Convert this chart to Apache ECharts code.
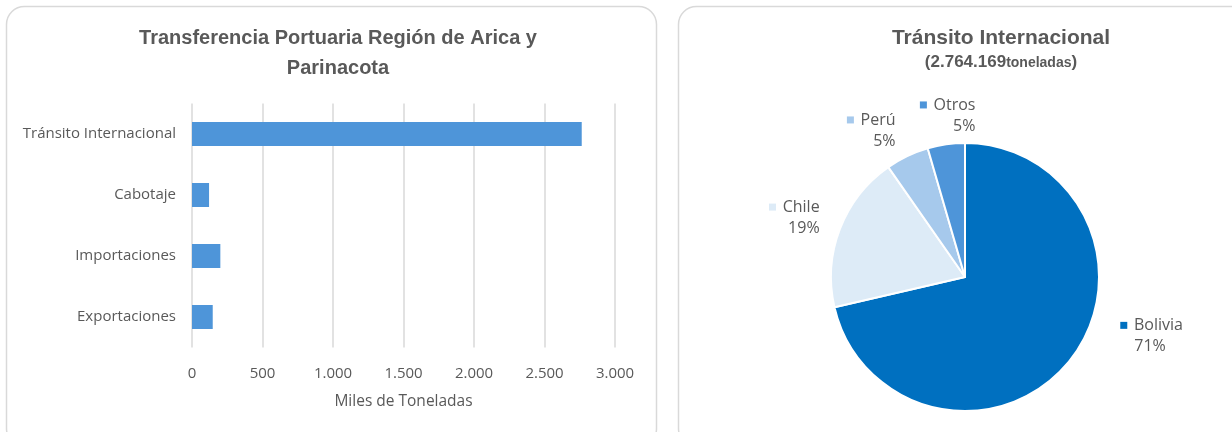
<!DOCTYPE html>
<html>
<head>
<meta charset="utf-8">
<script src="https://cdn.jsdelivr.net/npm/echarts@6/dist/echarts.min.js"></script>
<style>
html,body{margin:0;padding:0;background:#fff;}
#c{width:1232px;height:432px;}
</style>
</head>
<body>
<div id="c"></div>
<script>
// Bar chart data (miles de toneladas)
const categories = ['Tránsito Internacional', 'Cabotaje', 'Importaciones', 'Exportaciones'];
const values = [2764, 121, 201, 147];
const xMin = 0, xMax = 3000, xStep = 500;

// Pie chart data (miles de toneladas, Tránsito Internacional)
const countries = ['Bolivia', 'Chile', 'Perú', 'Otros'];
const shares = [1973, 523, 144, 124];
const pieColors = ['#0070C0', '#DDEBF7', '#A6C9EC', '#4E95D9'];

const txt = '#595959';
const tfont = 'Liberation Sans';
const font = 'Open Sans';

const rich = {
  n: {fontSize: 16, color: txt, fontFamily: font, lineHeight: 21},
  p: {fontSize: 16, color: txt, fontFamily: font, lineHeight: 21, padding: [0, 0, 0, 14]}
};
pieColors.forEach((c, i) => {
  rich['sq' + i] = {width: 7, height: 7, backgroundColor: c};
});
// nudges to mimic the spreadsheet's "best fit" label placement
const labelNudge = [[36, -32], [-9, -7], [32, -41], [36, -17]];

const chart = echarts.init(document.getElementById('c'), null, {renderer: 'canvas'});
chart.setOption({
  animation: false,
  backgroundColor: '#fff',
  graphic: [
    {type: 'rect', z: -10, shape: {x: 6.5, y: 6.5, width: 650, height: 440, r: 18},
     style: {fill: '#fff', stroke: '#D9D9D9', lineWidth: 1.5}},
    {type: 'rect', z: -10, shape: {x: 678.5, y: 6.5, width: 570, height: 440, r: 18},
     style: {fill: '#fff', stroke: '#D9D9D9', lineWidth: 1.5}}
  ],
  title: [
    {text: 'Transferencia Portuaria Región de Arica y\nParinacota', left: 333, top: 18, textAlign: 'center',
     textStyle: {fontSize: 20, fontWeight: 'bold', color: txt, fontFamily: tfont, lineHeight: 30}},
    {text: 'Tránsito Internacional', subtext: '{a|(2.764.169}{b|toneladas}{a|)}', left: 996, top: 23, textAlign: 'center',
     itemGap: 5,
     textStyle: {fontSize: 21, fontWeight: 'bold', color: txt, fontFamily: tfont},
     subtextStyle: {rich: {
       a: {fontSize: 17, fontWeight: 'bold', color: txt, fontFamily: tfont},
       b: {fontSize: 14, fontWeight: 'bold', color: txt, fontFamily: tfont, padding: [2, 0, 0, 0]}
     }}}
  ],
  grid: {left: 192, width: 423, top: 103.5, height: 244, containLabel: false},
  xAxis: {
    type: 'value', min: xMin, max: xMax, interval: xStep,
    name: 'Miles de Toneladas', nameLocation: 'middle', nameGap: 46,
    nameTextStyle: {fontSize: 15.5, color: txt, fontFamily: font},
    axisLine: {show: false}, axisTick: {show: false},
    axisLabel: {fontSize: 15, color: txt, fontFamily: font, margin: 19,
      formatter: v => v.toString().replace(/\B(?=(\d{3})+(?!\d))/g, '.')},
    splitLine: {show: true, lineStyle: {color: '#D9D9D9', width: 1.5}}
  },
  yAxis: {
    type: 'category', data: categories, inverse: true,
    axisLine: {show: false}, axisTick: {show: false},
    axisLabel: {fontSize: 15, color: txt, fontFamily: font, margin: 16}
  },
  series: [
    {type: 'bar', data: values, barWidth: 24, itemStyle: {color: '#4E95D9'}},
    {type: 'pie', center: [965, 277], radius: 134, startAngle: 90, clockwise: true,
     percentPrecision: 0,
     data: countries.map((n, i) => ({name: n, value: shares[i], itemStyle: {color: pieColors[i]}})),
     itemStyle: {borderColor: '#fff', borderWidth: 2},
     label: {show: true, position: 'outside', align: 'center',
       formatter: p => '{sq' + p.dataIndex + '|}  {n|' + p.name + '}\n{p|' + p.percent + '%}',
       rich: rich},
     labelLine: {show: false, length: 12, length2: 0},
     labelLayout: p => ({dx: labelNudge[p.dataIndex][0], dy: labelNudge[p.dataIndex][1]})
    }
  ]
});
</script>
</body>
</html>
